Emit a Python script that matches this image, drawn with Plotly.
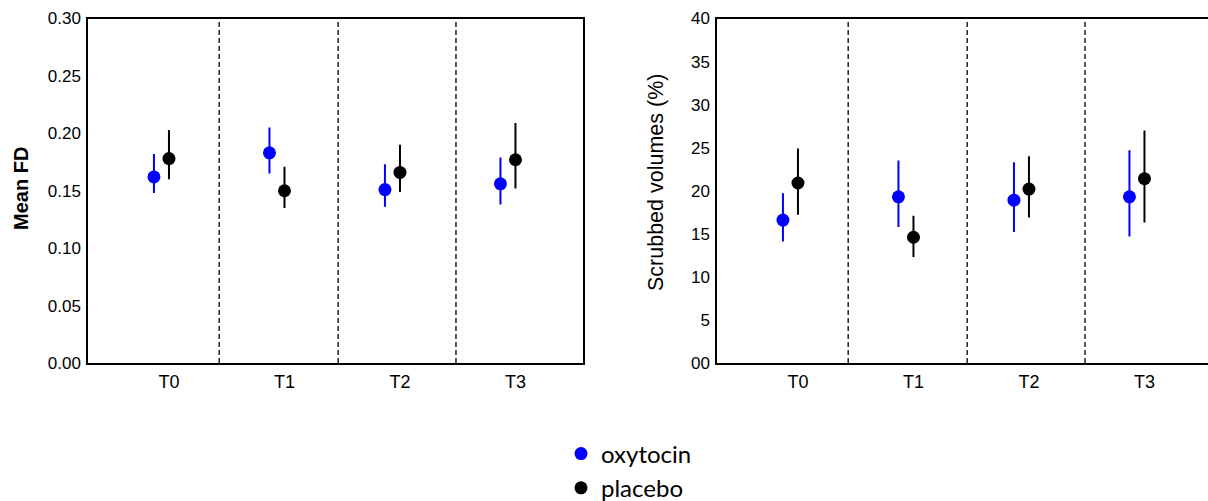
import plotly.graph_objects as go

W, H = 1208, 501

timepoints = ["T0", "T1", "T2", "T3"]
group_pos = [0, 1, 2, 3]
dividers = [0.5, 1.53, 2.55]

# Mean FD
fd_oxy = [0.162, 0.183, 0.151, 0.156]
fd_oxy_hi = [0.182, 0.205, 0.173, 0.179]
fd_oxy_lo = [0.148, 0.165, 0.136, 0.138]
fd_pla = [0.178, 0.150, 0.166, 0.177]
fd_pla_hi = [0.203, 0.171, 0.190, 0.209]
fd_pla_lo = [0.160, 0.135, 0.149, 0.152]

# Scrubbed volumes (%)
sv_oxy = [16.6, 19.3, 18.9, 19.3]
sv_oxy_hi = [19.7, 23.5, 23.3, 24.7]
sv_oxy_lo = [14.1, 15.8, 15.2, 14.7]
sv_pla = [20.9, 14.6, 20.2, 21.4]
sv_pla_hi = [24.9, 17.1, 24.0, 27.0]
sv_pla_lo = [17.2, 12.3, 16.9, 16.3]

fd_ticks = [0, 0.05, 0.10, 0.15, 0.20, 0.25, 0.30]
fd_ticktext = ["0.00", "0.05", "0.10", "0.15", "0.20", "0.25", "0.30"]
sv_ticks = [0, 5, 10, 15, 20, 25, 30, 35, 40]
sv_ticktext = ["00", "5", "10", "15", "20", "25", "30", "35", "40"]

OFF = 0.065
BLUE = "#0000ff"
BLACK = "#000000"

fig = go.Figure()


def add_group(xaxis, yaxis, vals, hi, lo, offset, color, name, show):
    xs = [g + offset for g in group_pos]
    fig.add_trace(go.Scatter(
        x=xs, y=vals, mode="markers", name=name, showlegend=show,
        xaxis=xaxis, yaxis=yaxis,
        marker=dict(color=color, size=13, line=dict(width=0)),
        error_y=dict(type="data", symmetric=False,
                     array=[h - v for h, v in zip(hi, vals)],
                     arrayminus=[v - l for v, l in zip(vals, lo)],
                     color=color, thickness=2, width=0),
    ))


add_group("x", "y", fd_oxy, fd_oxy_hi, fd_oxy_lo, -OFF, BLUE, "oxytocin", True)
add_group("x", "y", fd_pla, fd_pla_hi, fd_pla_lo, OFF, BLACK, "placebo", True)
add_group("x2", "y2", sv_oxy, sv_oxy_hi, sv_oxy_lo, -OFF, BLUE, "oxytocin", False)
add_group("x2", "y2", sv_pla, sv_pla_hi, sv_pla_lo, OFF, BLACK, "placebo", False)

for xr, yr in (("x", "y domain"), ("x2", "y2 domain")):
    for d in dividers:
        fig.add_shape(type="line", xref=xr, yref=yr, x0=d, x1=d, y0=0, y1=1,
                      line=dict(color="#222222", width=1.5, dash="5px,3px"), layer="below")

ytop = 1 - 18.5 / H
ybot = 1 - 363 / H
unit = 115.5
left0 = -0.636

tickfont_x = dict(family="Liberation Sans, Arial, sans-serif", size=18, color="#000")
tickfont_y = dict(family="Liberation Sans, Arial, sans-serif", size=17, color="#000")
xtickvals = [g + OFF for g in group_pos]

common_x = dict(showgrid=False, zeroline=False, showline=True, linecolor="#000", linewidth=1.5,
                ticks="", tickmode="array", tickvals=xtickvals, ticktext=timepoints,
                tickfont=tickfont_x, fixedrange=True, automargin=False, ticklabelstandoff=2)
common_y = dict(showgrid=False, zeroline=False, showline=True, linecolor="#000", linewidth=1.5,
                ticks="", tickmode="array", tickfont=tickfont_y, ticklabelstandoff=2,
                automargin=False, fixedrange=True)

fig.update_layout(
    width=W, height=H,
    margin=dict(l=0, r=0, t=0, b=0, autoexpand=False),
    plot_bgcolor="white", paper_bgcolor="white",
    xaxis=dict(domain=[88 / W, 583 / W], range=[left0, left0 + 495 / unit], mirror=True,
               anchor="y", **common_x),
    yaxis=dict(domain=[ybot, ytop], range=[0, 0.30], tickvals=fd_ticks, ticktext=fd_ticktext,
               mirror=True, anchor="x", **common_y),
    xaxis2=dict(domain=[717 / W, 1.0], range=[left0, left0 + 491 / unit], mirror=True,
                anchor="y2", **common_x),
    yaxis2=dict(domain=[ybot, ytop], range=[0, 40], tickvals=sv_ticks, ticktext=sv_ticktext,
                mirror=False, anchor="x2", **common_y),
    legend=dict(x=561 / W, xanchor="left", y=1 - 431.5 / H, yanchor="top",
                font=dict(family="Lato, Open Sans, sans-serif", size=24, color="#000"),
                bgcolor="rgba(0,0,0,0)", itemsizing="trace"),
    annotations=[
        dict(text="<b>Mean FD</b>", x=21 / W, y=1 - 189 / H, xref="paper", yref="paper",
             textangle=-90, showarrow=False, xanchor="center", yanchor="middle",
             font=dict(family="Liberation Sans, Arial, sans-serif", size=20, color="#000")),
        dict(text="Scrubbed volumes (%)", x=656 / W, y=1 - 183 / H, xref="paper", yref="paper",
             textangle=-90, showarrow=False, xanchor="center", yanchor="middle",
             font=dict(family="Liberation Sans, Arial, sans-serif", size=21.5, color="#000")),
    ],
)

fig.write_html(
    "out.html",
    config={"displayModeBar": False},
    post_script="document.body.style.margin='0';document.body.style.overflow='hidden';",
)
